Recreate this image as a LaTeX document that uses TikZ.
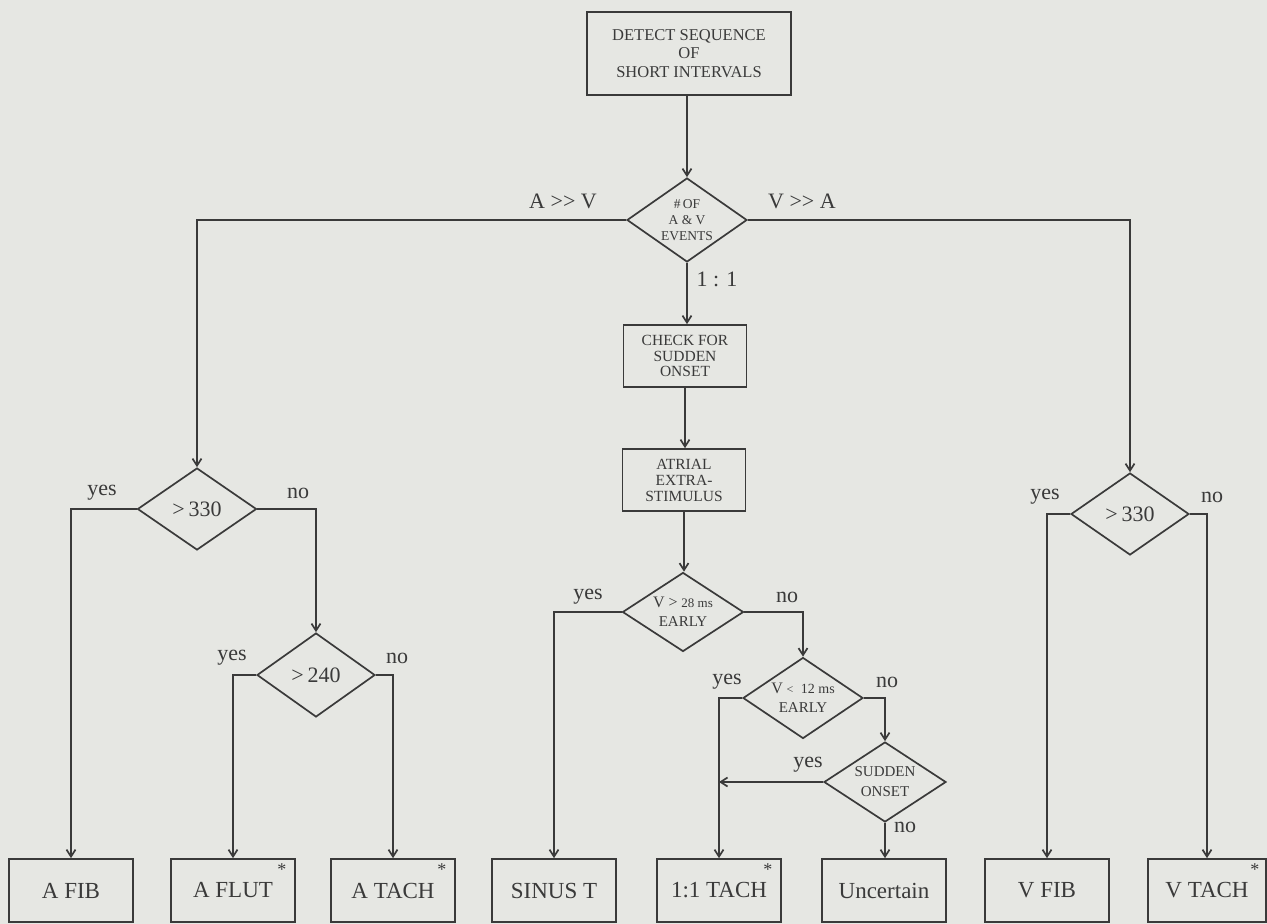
\documentclass[tikz,border=0pt]{standalone}
\usepackage{fontspec}
\setmainfont{Liberation Serif}
\usetikzlibrary{shapes.geometric,arrows.meta}
\definecolor{bg}{HTML}{E6E7E3}
\definecolor{ink}{HTML}{3A3A3A}
\begin{document}
\begin{tikzpicture}[x=1pt,y=-1pt,
  box/.style={draw=ink,line width=1.7pt,rectangle,inner sep=0pt,align=center,text=ink},
  dia/.style={draw=ink,line width=1.7pt,diamond,inner sep=-30pt,align=center,text=ink},
  outbox/.style={box,minimum width=124pt,minimum height=63pt,font=\fontsize{23}{23}\selectfont},
  conn/.style={draw=ink,line width=1.7pt,-{Straight Barb[length=7pt,width=9pt]}},
  lab/.style={text=ink,inner sep=0pt,font=\fontsize{22}{22}\selectfont},
  ast/.style={text=ink,inner sep=0pt,font=\fontsize{18}{18}\selectfont}]
\fill[bg] (0,0) rectangle (1267,924);
\useasboundingbox (0,0) rectangle (1267,924);

% process nodes
\node[box,minimum width=204pt,minimum height=83pt,font=\fontsize{16.5}{18.5}\selectfont] (det) at (689,53.5) {DETECT SEQUENCE\\OF\\SHORT INTERVALS};
\node[dia,minimum width=120pt,minimum height=84pt,font=\fontsize{13.5}{16}\selectfont] (ev) at (687,220) {\#\,OF\\A \& V\\EVENTS};
\node[box,minimum width=123pt,minimum height=62pt,font=\fontsize{15.5}{15.5}\selectfont] (chk) at (685,356) {CHECK FOR\\SUDDEN\\ONSET};
\node[box,minimum width=123pt,minimum height=62pt,font=\fontsize{15.5}{16}\selectfont] (atr) at (684,480) {ATRIAL\\EXTRA-\\STIMULUS};
\node[dia,minimum width=121pt,minimum height=79pt,font=\fontsize{15}{19}\selectfont] (d28) at (683,612) {{\fontsize{16}{16}\selectfont V >} {\fontsize{13}{13}\selectfont 28 ms}\\EARLY};
\node[dia,minimum width=120pt,minimum height=81pt,font=\fontsize{15}{19}\selectfont] (d12) at (803,698) {{\fontsize{16}{16}\selectfont V} {\fontsize{12}{12}\selectfont <}\ \ {\fontsize{14}{14}\selectfont 12 ms}\\EARLY};
\node[dia,minimum width=122pt,minimum height=80pt,font=\fontsize{15}{20}\selectfont] (son) at (885,782) {SUDDEN\\ONSET};
\node[dia,minimum width=119pt,minimum height=82pt,font=\fontsize{22}{22}\selectfont] (a330) at (197,509) {>\,330};
\node[dia,minimum width=118pt,minimum height=84pt,font=\fontsize{22}{22}\selectfont] (a240) at (316,675) {>\,240};
\node[dia,minimum width=118pt,minimum height=82pt,font=\fontsize{22}{22}\selectfont] (v330) at (1130,514) {>\,330};

% outcome boxes
\node[outbox] (afib)  at (71,890.5)   {A FIB};
\node[outbox] (aflut) at (233,890.5)  {A FLUT};
\node[outbox] (atach) at (393,890.5)  {A TACH};
\node[outbox] (sinus) at (554,890.5)  {SINUS T};
\node[outbox] (t11)   at (719,890.5)  {1:1 TACH};
\node[outbox] (unc)   at (884,890.5)  {Uncertain};
\node[outbox] (vfib)  at (1047,890.5) {V FIB};
\node[outbox,minimum width=118pt] (vtach) at (1207,890.5) {V TACH};

% asterisks
\node[ast] (s1) at ([shift={(-14,11)}]aflut.north east) {*};
\node[ast] (s2) at ([shift={(-14,11)}]atach.north east) {*};
\node[ast] (s3) at ([shift={(-14,11)}]t11.north east) {*};
\node[ast] (s4) at ([shift={(-12,11)}]vtach.north east) {*};

% connectors
\draw[conn] (det.south -| ev.north) -- (ev.north);
\draw[conn] (ev.west) -| (a330.north);
\draw[conn] (ev.east) -| (v330.north);
\draw[conn] (ev.south) -- (ev.south |- chk.north);
\draw[conn] (chk.south) -- (chk.south |- atr.north);
\draw[conn] (atr.south) -- (atr.south |- d28.north);
\draw[conn] (a330.west) -| (afib.north);
\draw[conn] (a330.east) -| (a240.north);
\draw[conn] (a240.west) -| (aflut.north);
\draw[conn] (a240.east) -| (atach.north);
\draw[conn] (d28.west) -| (sinus.north);
\draw[conn] (d28.east) -| (d12.north);
\draw[conn] (d12.west) -| (t11.north);
\draw[conn] (d12.east) -| (son.north);
\draw[conn] (son.west) -- (son.west -| t11.north);
\draw[conn] (son.south) -- (son.south |- unc.north);
\draw[conn] (v330.west) -| (vfib.north);
\draw[conn] (v330.east) -| (vtach.north);

% labels
\node[lab,anchor=east] (lav) at (597,201) {A >{}> V};
\node[lab,anchor=west] (lva) at (768,201) {V >{}> A};
\node[lab] (l11) at (717,279) {1 : 1};
\node[lab] (y1) at (102,493) {yes};
\node[lab] (n1) at (298,493) {no};
\node[lab] (y2) at (232,658) {yes};
\node[lab] (n2) at (397,658) {no};
\node[lab] (y3) at (588,597) {yes};
\node[lab] (n3) at (787,597) {no};
\node[lab] (y4) at (727,682) {yes};
\node[lab] (n4) at (887,682) {no};
\node[lab] (y5) at (808,765) {yes};
\node[lab] (n5) at (905,827) {no};
\node[lab] (y6) at (1045,497) {yes};
\node[lab] (n6) at (1212,497) {no};
\end{tikzpicture}
\end{document}
